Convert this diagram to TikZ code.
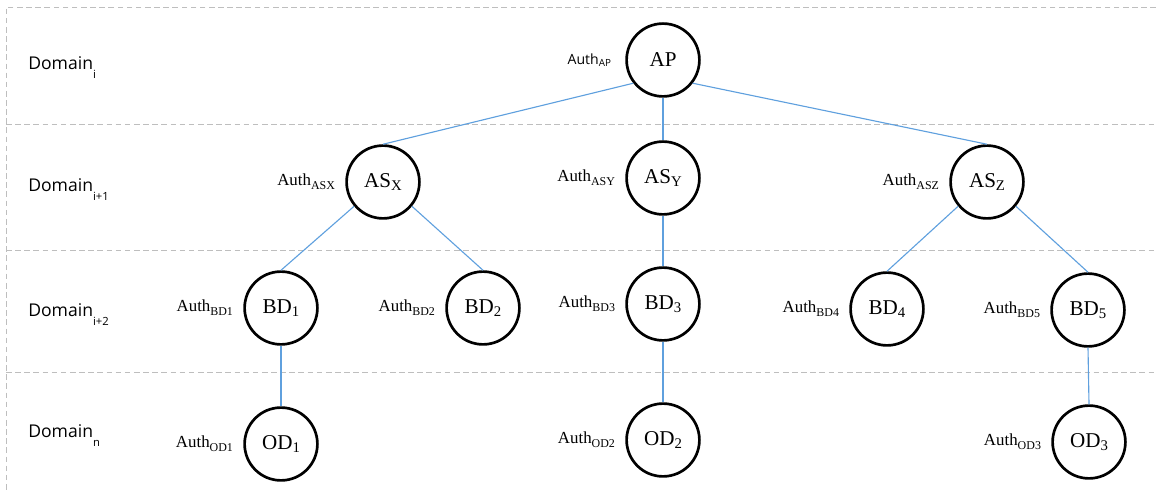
\documentclass[tikz,border=0pt]{standalone}
\definecolor{link_blue}{RGB}{95, 160, 222}
\definecolor{band_gray}{RGB}{190, 190, 190}
\usepackage{fontspec}
\setmainfont{Liberation Serif}
\newfontfamily\uifont{Open Sans}
\usepackage{tikz}
\usetikzlibrary{positioning}
\newcommand{\dsub}[1]{\raisebox{-0.9ex}{\fontsize{8}{9}\selectfont #1}}
\newcommand{\asub}[1]{\raisebox{-0.5ex}{\fontsize{8.5}{9}\selectfont #1}}
\newcommand{\nsub}[1]{\raisebox{-0.35ex}{\fontsize{10.5}{12}\selectfont #1}}

\begin{document}
\begin{tikzpicture}[x=0.025cm, y=-0.025cm,
        dev/.style={circle, draw=black, line width=1.9pt, minimum size=1.82cm,
                    inner sep=0pt, font=\fontsize{15}{17}\selectfont},
        auth/.style={inner sep=0pt, font=\fontsize{12}{13}\selectfont},
        dom/.style={anchor=base west, inner sep=0pt,
                    font=\uifont\fontsize{12.5}{14}\selectfont},
        band/.style={draw=band_gray, line width=0.6pt, dash pattern=on 4pt off 2.5pt},
        link/.style={draw=link_blue, line width=0.8pt}]
        \useasboundingbox (0,0) rectangle (1156,490);
        % domain bands
        \draw[band] (1156,7) -- (6,7) -- (6,490);
        \draw[band] (6,124) -- (1156,124);
        \draw[band] (6,250) -- (1156,250);
        \draw[band] (6,372) -- (1156,372);
        \node[dom] (d0) at (28,70) {Domain\dsub{i}};
        \node[dom] (d1) at (28,192) {Domain\dsub{i+1}};
        \node[dom] (d2) at (28,317) {Domain\dsub{i+2}};
        \node[dom] (d3) at (28,438) {Domain\dsub{n}};
        % nodes
        \node[dev] (ap)  at (663, 60) {AP};
        \node[dev] (asx) at (383,182) {AS\nsub{X}};
        \node[dev] (asy) at (663,178) {AS\nsub{Y}};
        \node[dev] (asz) at (987,182) {AS\nsub{Z}};
        \node[dev] (bd1) at (281,308) {BD\nsub{1}};
        \node[dev] (bd2) at (483,308) {BD\nsub{2}};
        \node[dev] (bd3) at (663,304) {BD\nsub{3}};
        \node[dev] (bd4) at (887,309) {BD\nsub{4}};
        \node[dev] (bd5) at (1088,310) {BD\nsub{5}};
        \node[dev] (od1) at (281,444) {OD\nsub{1}};
        \node[dev] (od2) at (663,440) {OD\nsub{2}};
        \node[dev] (od3) at (1089,442) {OD\nsub{3}};
        % labels
        \node[auth, left=0.35cm of ap, font=\uifont\fontsize{10}{11}\selectfont]
          (lap) {Auth\raisebox{-0.25ex}{\fontsize{7}{8}\selectfont AP}};
        \node[auth, left=0.25cm of asx] (lasx) {Auth\asub{ASX}};
        \node[auth, left=0.25cm of asy] (lasy) {Auth\asub{ASY}};
        \node[auth, left=0.25cm of asz] (lasz) {Auth\asub{ASZ}};
        \node[auth, left=0.25cm of bd1] (lbd1) {Auth\asub{BD1}};
        \node[auth, left=0.25cm of bd2] (lbd2) {Auth\asub{BD2}};
        \node[auth, left=0.25cm of bd3] (lbd3) {Auth\asub{BD3}};
        \node[auth, left=0.25cm of bd4] (lbd4) {Auth\asub{BD4}};
        \node[auth, left=0.25cm of bd5] (lbd5) {Auth\asub{BD5}};
        \node[auth, left=0.25cm of od1] (lod1) {Auth\asub{OD1}};
        \node[auth, left=0.25cm of od2] (lod2) {Auth\asub{OD2}};
        \node[auth, left=0.25cm of od3] (lod3) {Auth\asub{OD3}};
        % links
        \draw[link] (ap.218) -- (asx.north);
        \draw[link] (ap.south) -- (asy.north);
        \draw[link] (ap.322) -- (asz.north);
        \draw[link] (asx.220) -- (bd1.north);
        \draw[link] (asx.320) -- (bd2.north);
        \draw[link] (asy.south) -- (bd3.north);
        \draw[link] (asz.220) -- (bd4.north);
        \draw[link] (asz.320) -- (bd5.north);
        \draw[link] (bd1.south) -- (od1.north);
        \draw[link] (bd3.south) -- (od2.north);
        \draw[link] (bd5.south) -- (od3.north);
      \end{tikzpicture}
\end{document}
